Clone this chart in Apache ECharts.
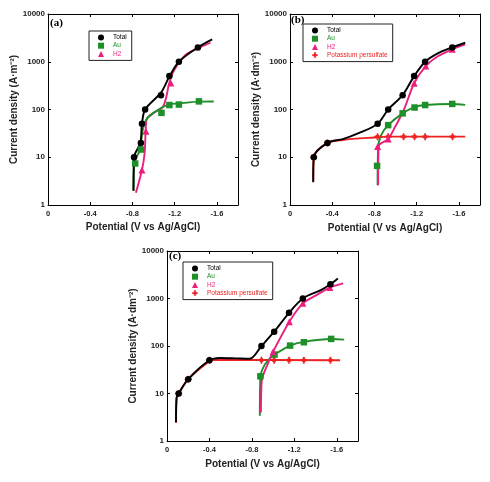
<!DOCTYPE html>
<html><head><meta charset="utf-8">
<script src="https://cdn.jsdelivr.net/npm/echarts@6/dist/echarts.min.js"></script>
<style>html,body{margin:0;padding:0;background:#fff}#c{width:490px;height:482px}</style>
</head><body><div id="c"></div>
<script>
// ---- tick labels ----
const xTicks = [0, -0.4, -0.8, -1.2, -1.6];
const yTicks = [1, 10, 100, 1000, 10000];
const panelLabels = ['(a)', '(b)', '(c)'];
const yNames = ['Current density (A·m⁻²)', 'Current density (A·dm⁻²)', 'Current density (A·dm⁻²)'];
const xName = 'Potential (V vs Ag/AgCl)';
const seriesNames = ['Total', 'Au', 'H2', 'Potassium persulfate'];

// ---- panel (a) ----
const aTotalPts = [[-0.815,10],[-0.88,20],[-0.89,50],[-0.92,100],[-1.07,200],[-1.15,500],[-1.24,1000],[-1.42,2000]];
const aTotalLine = [[-0.81,2],[-0.815,10],[-0.875,20],[-0.89,50],[-0.92,100],[-1.07,225],[-1.15,490],[-1.24,1000],[-1.42,2000],[-1.555,2950]];
const aAuPts = [[-0.826,7.4],[-0.88,14.5],[-1.075,85],[-1.15,124],[-1.24,127],[-1.43,148]];
const aAuLine = [[-0.81,2],[-0.82,8],[-0.87,14],[-0.9,40],[-0.935,64],[-1.0,85],[-1.08,110],[-1.15,128],[-1.24,134],[-1.43,146],[-1.57,147]];
const aH2Pts = [[-0.89,5.4],[-0.927,35],[-1.163,357]];
const aH2Line = [[-0.833,1.8],[-0.89,5.4],[-0.915,12],[-0.925,35],[-0.935,62],[-1.0,85],[-1.084,109],[-1.12,180],[-1.147,348],[-1.194,660],[-1.30,1370],[-1.42,1900],[-1.54,2500]];

// ---- panel (b) ----
const bTotalPts = [[-0.225,10],[-0.355,20],[-0.83,50],[-0.93,100],[-1.067,200],[-1.176,500],[-1.28,1000],[-1.537,2000]];
const bTotalLine = [[-0.22,3],[-0.225,10],[-0.355,20],[-0.5,24],[-0.65,32],[-0.83,50],[-0.93,100],[-1.067,200],[-1.176,500],[-1.28,1000],[-1.4,1500],[-1.537,2000],[-1.66,2500]];
const bAuPts = [[-0.825,6.6],[-0.93,47],[-1.067,83],[-1.18,110],[-1.28,124],[-1.537,131]];
const bAuLine = [[-0.83,2.6],[-0.835,15],[-0.86,28],[-0.93,47],[-1.067,83],[-1.18,112],[-1.28,124],[-1.537,130],[-1.66,125]];
const bH2Pts = [[-0.83,16.7],[-0.93,24],[-1.176,355],[-1.286,810],[-1.537,1820]];
const bH2Line = [[-0.835,2.6],[-0.84,17],[-0.93,24],[-1.0,45],[-1.08,100],[-1.176,355],[-1.286,810],[-1.4,1300],[-1.537,1820],[-1.66,2300]];
const bKPts = [[-0.225,10],[-0.355,20],[-0.83,27],[-0.93,27],[-1.076,27],[-1.18,27],[-1.28,27],[-1.54,27]];
const bKLine = [[-0.22,3.2],[-0.225,10],[-0.355,20],[-0.5,23],[-0.8,26],[-0.93,27],[-1.66,27]];

// ---- panel (c) ----
const cTotalPts = [[-0.11,10],[-0.2,20],[-0.4,50],[-0.89,100],[-1.01,200],[-1.15,500],[-1.28,1000],[-1.54,2000]];
const cTotalLine = [[-0.085,2.5],[-0.09,8],[-0.11,10],[-0.2,20],[-0.4,50],[-0.5,56],[-0.65,55],[-0.78,54],[-0.89,100],[-1.01,200],[-1.15,500],[-1.28,1000],[-1.45,1500],[-1.54,2000],[-1.61,2650]];
const cAuPts = [[-0.88,23],[-1.013,66],[-1.16,102],[-1.29,120],[-1.547,141]];
const cAuLine = [[-0.875,3.4],[-0.88,23],[-0.92,40],[-0.97,55],[-1.013,66],[-1.16,102],[-1.29,122],[-1.547,140],[-1.67,136]];
const cH2Pts = [[-1.0,76],[-1.153,325],[-1.28,790],[-1.535,1700]];
const cH2Line = [[-0.885,4],[-0.89,15],[-0.9,22],[-0.95,42],[-1.0,76],[-1.153,325],[-1.28,790],[-1.4,1150],[-1.535,1700],[-1.66,2080]];
const cKPts = [[-0.11,10],[-0.2,20],[-0.4,50],[-0.89,50],[-1.01,50],[-1.15,50],[-1.29,50],[-1.54,50]];
const cKLine = [[-0.085,2.4],[-0.09,8],[-0.11,10],[-0.2,20],[-0.4,48],[-0.45,51],[-1.63,50]];

const colors = {Total:'#000000', Au:'#1f8f2a', H2:'#ec1f7e', 'Potassium persulfate':'#ee2222'};
const starPath = 'path://M-0.7,-3L0.7,-3L0.7,3L-0.7,3Z M-3,-0.7L3,-0.7L3,0.7L-3,0.7Z M0,-1.9A1.9,1.9 0 1,1 0,1.9A1.9,1.9 0 1,1 0,-1.9Z';
const symbols = {Total:'circle', Au:'rect', H2:'triangle', 'Potassium persulfate':starPath};
const symSizes = {Total:6.5, Au:6.5, H2:7, 'Potassium persulfate':7};

const panels = [
  {grid:{left:48, top:14, width:190, height:191}, yGap:29, xGap:17, label:{left:50, top:18},
   legend:{left:89, top:31}, names:['Total','Au','H2'],
   lines:{H2:aH2Line, Au:aAuLine, Total:aTotalLine}, pts:{Au:aAuPts, H2:aH2Pts, Total:aTotalPts}},
  {grid:{left:290, top:14, width:190, height:191}, yGap:26, xGap:18, label:{left:291, top:15},
   legend:{left:303, top:24}, names:['Total','Au','H2','Potassium persulfate'],
   lines:{'Potassium persulfate':bKLine, Au:bAuLine, H2:bH2Line, Total:bTotalLine},
   pts:{'Potassium persulfate':bKPts, Au:bAuPts, H2:bH2Pts, Total:bTotalPts}},
  {grid:{left:167, top:251, width:191, height:190}, yGap:26, xGap:18, label:{left:169, top:251},
   legend:{left:183, top:262}, names:['Total','Au','H2','Potassium persulfate'],
   lines:{'Potassium persulfate':cKLine, Au:cAuLine, H2:cH2Line, Total:cTotalLine},
   pts:{'Potassium persulfate':cKPts, Au:cAuPts, H2:cH2Pts, Total:cTotalPts}}
];

const FONT = '"Liberation Sans", Arial, sans-serif';
const option = {animation:false, backgroundColor:'#fff', grid:[], xAxis:[], yAxis:[], series:[], legend:[], title:[]};

panels.forEach((p, i) => {
  option.grid.push(p.grid);
  const lineStyle = {color:'#000', width:1};
  const xBase = {gridIndex:i, type:'value', min:-1.8, max:0, inverse:true,
    axisLine:{show:true, onZero:false, lineStyle},
    axisTick:{show:true, inside:true, length:3, customValues:xTicks, lineStyle},
    splitLine:{show:false}};
  option.xAxis.push(Object.assign({}, xBase, {position:'bottom',
    axisLabel:{customValues:xTicks, formatter:v => (v === 0 ? '0' : v.toFixed(1)), fontSize:7.5, fontWeight:'bold', color:'#222', fontFamily:FONT, margin:5},
    name:xName, nameLocation:'middle', nameGap:p.xGap,
    nameTextStyle:{fontSize:10, fontWeight:'bold', color:'#222', fontFamily:FONT}}));
  option.xAxis.push(Object.assign({}, xBase, {position:'top', axisLabel:{show:false}}));
  const yBase = {gridIndex:i, type:'log', logBase:10, min:1, max:10000,
    axisLine:{show:true, onZero:false, lineStyle},
    axisTick:{show:true, inside:true, length:3, lineStyle},
    minorTick:{show:false}, splitLine:{show:false}};
  option.yAxis.push(Object.assign({}, yBase, {position:'left',
    axisLabel:{formatter:v => String(Math.round(v)), fontSize:8, fontWeight:'bold', color:'#222', fontFamily:FONT, margin:3},
    name:yNames[i], nameLocation:'middle', nameRotate:90, nameGap:p.yGap,
    nameTextStyle:{fontSize:10, fontWeight:'bold', color:'#222', fontFamily:FONT}}));
  option.yAxis.push(Object.assign({}, yBase, {position:'right', axisLabel:{show:false}}));

  Object.keys(p.lines).forEach(n => {
    option.series.push({type:'line', xAxisIndex:2*i, yAxisIndex:2*i, data:p.lines[n],
      smooth:0.3, showSymbol:false, symbol:'none', lineStyle:{color:colors[n], width:1.9}, z:2, silent:true});
  });
  Object.keys(p.pts).forEach(n => {
    option.series.push({type:'scatter', name:n, xAxisIndex:2*i, yAxisIndex:2*i, data:p.pts[n],
      symbol:symbols[n], symbolSize:symSizes[n], itemStyle:{color:colors[n], opacity:1}, z:3, silent:true});
  });

  option.legend.push({left:p.legend.left, top:p.legend.top, orient:'vertical', selectedMode:false,
    borderColor:'#222', borderWidth:1, borderRadius:0, padding:[3,5,3,9], itemGap:1.2,
    itemWidth:6, itemHeight:6, symbolKeepAspect:true, backgroundColor:'#fff',
    textStyle:{fontSize:6.5, fontFamily:FONT, lineHeight:6, padding:[0,0,0,4]},
    data:p.names.map(n => ({name:n, icon:symbols[n], itemStyle:{color:colors[n]}, textStyle:{color:colors[n]}}))});

  option.title.push({text:panelLabels[i], left:p.label.left, top:p.label.top, padding:0,
    textStyle:{fontFamily:'"Liberation Serif", "Times New Roman", serif', fontWeight:'bold', fontSize:11, color:'#000'}});
});

const chart = echarts.init(document.getElementById('c'), null, {renderer:'canvas'});
chart.setOption(option);
</script></body></html>
